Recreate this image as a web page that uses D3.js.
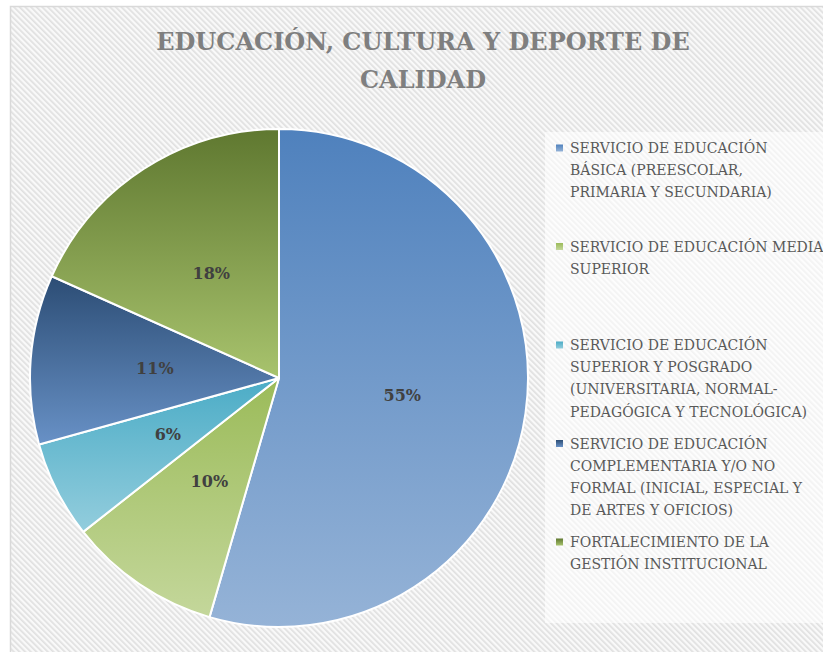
<!DOCTYPE html>
<html>
<head>
<meta charset="utf-8">
<script src="https://cdn.jsdelivr.net/npm/d3@7"></script>
<style>
  body { margin: 0; background: #fff; }
  svg { display: block; }
</style>
</head>
<body>
<svg id="chart" width="823" height="652"></svg>
<script>
const titleLines = ['EDUCACIÓN, CULTURA Y DEPORTE DE', 'CALIDAD']

const categories = [
  'SERVICIO DE EDUCACIÓN BÁSICA (PREESCOLAR, PRIMARIA Y SECUNDARIA)',
  'SERVICIO DE EDUCACIÓN MEDIA SUPERIOR',
  'SERVICIO DE EDUCACIÓN SUPERIOR Y POSGRADO (UNIVERSITARIA, NORMAL-PEDAGÓGICA Y TECNOLÓGICA)',
  'SERVICIO DE EDUCACIÓN COMPLEMENTARIA Y/O NO FORMAL (INICIAL, ESPECIAL Y DE ARTES Y OFICIOS)',
  'FORTALECIMIENTO DE LA GESTIÓN INSTITUCIONAL',
]

// legend text as it wraps in the picture
const legendLines = [
  ['SERVICIO DE EDUCACIÓN', 'BÁSICA (PREESCOLAR,', 'PRIMARIA Y SECUNDARIA)'],
  ['SERVICIO DE EDUCACIÓN MEDIA', 'SUPERIOR'],
  ['SERVICIO DE EDUCACIÓN', 'SUPERIOR Y POSGRADO', '(UNIVERSITARIA, NORMAL-', 'PEDAGÓGICA Y TECNOLÓGICA)'],
  ['SERVICIO DE EDUCACIÓN', 'COMPLEMENTARIA Y/O NO', 'FORMAL (INICIAL, ESPECIAL Y', 'DE ARTES Y OFICIOS)'],
  ['FORTALECIMIENTO DE LA', 'GESTIÓN INSTITUCIONAL'],
]

const shares = [54.5, 9.9, 6.3, 11.0, 18.3]

// top / bottom colour of each slice gradient
const topColors = ['#4f81bd', '#9bbb59', '#4bacc6', '#2c4d75', '#5f7830']
const bottomColors = ['#95b3d7', '#c4d79b', '#93cddd', '#6891c6', '#a8c36d']

const width = 823
const height = 652
const cx = 279
const cy = 378
const radius = 249

const svg = d3.select('#chart')
const defs = svg.append('defs')

const hatch = defs.append('pattern')
  .attr('id', 'hatch')
  .attr('patternUnits', 'userSpaceOnUse')
  .attr('width', 4)
  .attr('height', 4)
  .attr('patternTransform', 'rotate(-45)')
hatch.append('rect').attr('width', 4).attr('height', 4).attr('fill', '#f9f9f9')
hatch.append('rect').attr('width', 1.7).attr('height', 4).attr('fill', '#e0e0e0')

categories.forEach((c, i) => {
  const g = defs.append('linearGradient')
    .attr('id', 'grad' + i)
    .attr('x1', 0).attr('y1', 0)
    .attr('x2', 0).attr('y2', 1)
  g.append('stop').attr('offset', '0%').attr('stop-color', topColors[i])
  g.append('stop').attr('offset', '100%').attr('stop-color', bottomColors[i])
})

// chart area
svg.append('rect')
  .attr('x', 10.5).attr('y', 6.5)
  .attr('width', width).attr('height', height)
  .attr('fill', 'url(#hatch)')
  .attr('stroke', '#d9d9d9')
  .attr('stroke-width', 1.5)

// title
svg.append('g')
  .selectAll('text')
  .data(titleLines)
  .join('text')
    .attr('x', 423)
    .attr('y', (d, i) => 50 + i * 38)
    .attr('text-anchor', 'middle')
    .attr('font-family', 'DejaVu Serif')
    .attr('font-weight', 'bold')
    .attr('font-size', 24)
    .attr('fill', '#7f7f7f')
    .text(d => d)

// pie
const pie = d3.pie().sort(null).value(d => d)
const arcs = pie(shares)
const arc = d3.arc().innerRadius(0).outerRadius(radius)

const pieG = svg.append('g').attr('transform', `translate(${cx},${cy})`)

pieG.selectAll('path')
  .data(arcs)
  .join('path')
    .attr('d', arc)
    .attr('fill', (d, i) => `url(#grad${i})`)
    .attr('stroke', '#fff')
    .attr('stroke-width', 2)
    .attr('stroke-linejoin', 'round')

pieG.selectAll('text')
  .data(arcs)
  .join('text')
    .attr('transform', d => `translate(${arc.centroid(d)})`)
    .attr('dy', '0.35em')
    .attr('text-anchor', 'middle')
    .attr('font-family', 'DejaVu Serif')
    .attr('font-weight', 'bold')
    .attr('font-size', 16)
    .attr('fill', '#404040')
    .text(d => Math.round(d.data) + '%')

// legend
svg.append('rect')
  .attr('x', 545).attr('y', 132)
  .attr('width', 290).attr('height', 491)
  .attr('fill', '#fff')
  .attr('opacity', 0.6)

const legendY = d3.scalePoint()
  .domain(categories)
  .range([148, 542])

const lineH = 22.2

const items = svg.append('g')
  .selectAll('g')
  .data(categories)
  .join('g')
    .attr('transform', d => `translate(0,${legendY(d)})`)

items.append('rect')
  .attr('x', 556).attr('y', -3.5)
  .attr('width', 7).attr('height', 7)
  .attr('fill', (d, i) => `url(#grad${i})`)

items.each(function(d, i) {
  d3.select(this).selectAll('text')
    .data(legendLines[i])
    .join('text')
      .attr('x', 570)
      .attr('y', (t, j) => j * lineH)
      .attr('dy', '0.36em')
      .attr('font-family', 'DejaVu Serif')
      .attr('font-size', 14)
      .attr('fill', '#595959')
      .text(t => t)
})
</script>
</body>
</html>
